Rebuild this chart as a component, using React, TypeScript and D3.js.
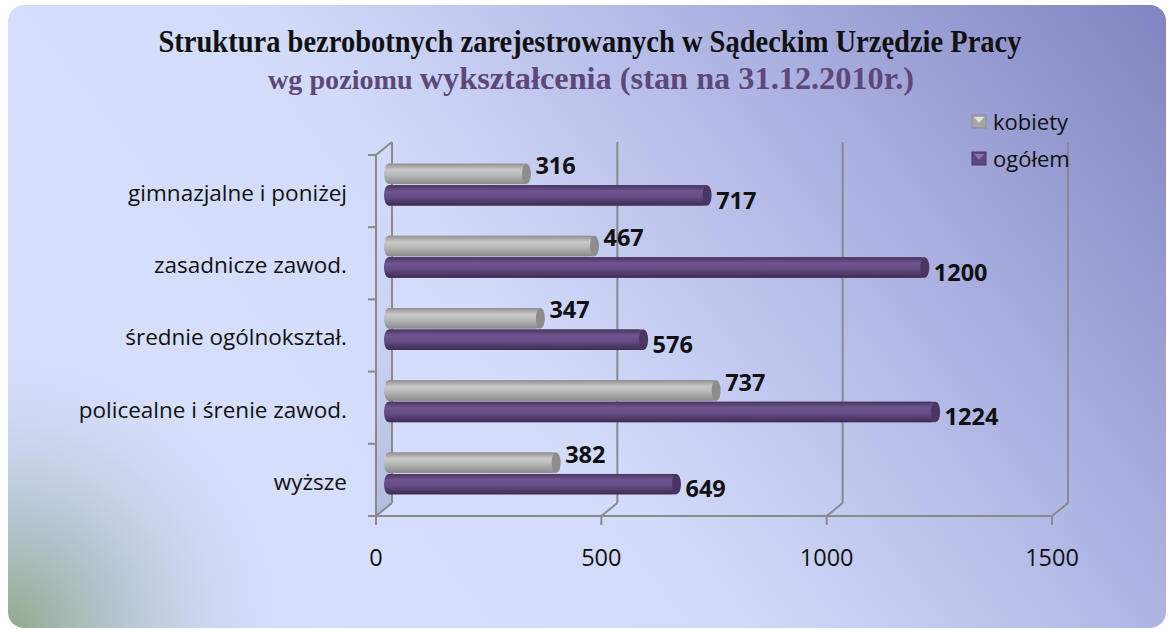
import React from "react";
import * as d3 from "d3";

const categories = [
  "gimnazjalne i poniżej",
  "zasadnicze zawod.",
  "średnie ogólnokształ.",
  "policealne i śrenie zawod.",
  "wyższe",
];
const kobiety = [316, 467, 347, 737, 382];
const ogolem = [717, 1200, 576, 1224, 649];
const seriesNames = ["kobiety", "ogółem"];
const xTicks = [0, 500, 1000, 1500];

const W = 1168;
const H = 629;
// depth offset of the 3D back wall
const DX = 16;
const DY = -13;

export default function App() {
  const x = d3.scaleLinear().domain([0, 1500]).range([376, 1052]);
  const y = d3.scaleBand().domain(categories).range([155, 516]).padding(0);
  const inner = d3
    .scaleBand()
    .domain(seriesNames)
    .range([y.bandwidth() * 0.21, y.bandwidth() * 0.79])
    .paddingInner(0.05);

  const rows = categories.map((c, i) => ({ cat: c, kobiety: kobiety[i], ogolem: ogolem[i] }));
  const fills: Record<string, string> = { kobiety: "url(#gGray)", "ogółem": "url(#gPurple)" };
  const caps: Record<string, string> = { kobiety: "#8d8d8d", "ogółem": "#4a3563" };

  const top = y.range()[0];
  const bottom = y.range()[1];
  const grid = "#8a8a8a";
  const sans = "'Open Sans', sans-serif";

  return (
    <svg width={W} height={H} style={{ position: "absolute", left: 0, top: 0 }}>
      <defs>
        <linearGradient id="bg" gradientUnits="userSpaceOnUse" x1={350} y1={629} x2={1168} y2={0}>
          <stop offset="0" stopColor="#d6dffc" />
          <stop offset="0.3" stopColor="#d2dbfa" />
          <stop offset="0.62" stopColor="#b0b6e4" />
          <stop offset="1" stopColor="#8183c1" />
        </linearGradient>
        <radialGradient id="green" gradientUnits="userSpaceOnUse" cx={8} cy={629} r={300}>
          <stop offset="0" stopColor="#90aa8a" stopOpacity="1" />
          <stop offset="0.4" stopColor="#adbfc6" stopOpacity="0.75" />
          <stop offset="1" stopColor="#d2dbfa" stopOpacity="0" />
        </radialGradient>
        <linearGradient id="gGray" x1="0" y1="0" x2="0" y2="1">
          <stop offset="0" stopColor="#8f8f8f" />
          <stop offset="0.3" stopColor="#c9c9c9" />
          <stop offset="0.55" stopColor="#b9b9b9" />
          <stop offset="1" stopColor="#8a8a8a" />
        </linearGradient>
        <linearGradient id="gPurple" x1="0" y1="0" x2="0" y2="1">
          <stop offset="0" stopColor="#4a3462" />
          <stop offset="0.3" stopColor="#6f5690" />
          <stop offset="0.6" stopColor="#624a82" />
          <stop offset="1" stopColor="#3f2c55" />
        </linearGradient>
        <linearGradient id="wall" x1="0" y1="0" x2="0" y2="1">
          <stop offset="0" stopColor="#c9d1f3" stopOpacity="0" />
          <stop offset="1" stopColor="#a9b3d6" stopOpacity="0.8" />
        </linearGradient>
      </defs>

      <rect x={8} y={5} width={1158} height={623} rx={16} fill="url(#bg)" />
      <rect x={8} y={5} width={1158} height={623} rx={16} fill="url(#green)" />

      {/* title */}
      <text
        x={590}
        y={52}
        textAnchor="middle"
        fontFamily="'Liberation Serif', serif"
        fontWeight="bold"
        fontSize={31}
        fill="#111"
        textLength={863}
        lengthAdjust="spacingAndGlyphs"
      >
        Struktura bezrobotnych zarejestrowanych w Sądeckim Urzędzie Pracy
      </text>
      <text
        x={591}
        y={89}
        textAnchor="middle"
        fontFamily="'Liberation Serif', serif"
        fontWeight="bold"
        fill="#5e4879"
        textLength={646}
        lengthAdjust="spacingAndGlyphs"
      >
        <tspan fontSize={27}>wg  poziomu </tspan>
        <tspan fontSize={31}>wykształcenia (stan na 31.12.2010r.)</tspan>
      </text>

      {/* left wall shading */}
      <polygon
        points={`${x(0)},${top} ${x(0) + DX},${top + DY} ${x(0) + DX},${bottom + DY} ${x(0)},${bottom}`}
        fill="url(#wall)"
      />

      {/* back grid lines with floor diagonals */}
      {xTicks.map((t) => (
        <g key={t} stroke={grid} strokeWidth={2} fill="none">
          <line x1={x(t) + DX} y1={top + DY} x2={x(t) + DX} y2={bottom + DY} />
          <line x1={x(t) + DX} y1={bottom + DY} x2={x(t)} y2={bottom} />
          <line x1={x(t)} y1={bottom} x2={x(t)} y2={bottom + 9} />
        </g>
      ))}
      {/* front y axis */}
      <g stroke={grid} strokeWidth={2}>
        <line x1={x(0)} y1={top} x2={x(0)} y2={bottom} />
        <line x1={x(0)} y1={top} x2={x(0) + DX} y2={top + DY} />
        <line x1={x(0) - 8} y1={bottom} x2={x(1500)} y2={bottom} />
        {categories.map((c) => (
          <line key={c} x1={x(0) - 8} y1={y(c)!} x2={x(0)} y2={y(c)!} />
        ))}
      </g>

      {/* bars */}
      {rows.map((r) =>
        seriesNames.map((s) => {
          const v = s === "kobiety" ? r.kobiety : r.ogolem;
          const y0 = y(r.cat)! + DY / 2 + inner(s)!;
          const h = inner.bandwidth();
          const x0 = x(0) + DX / 2;
          const x1 = x(v) + DX / 2;
          const rx = 4.5;
          return (
            <g key={r.cat + s}>
              <rect x={x0} y={y0} width={x1 - x0} height={h} rx={rx} ry={h / 2} fill={fills[s]} />
              <rect x={x0 + rx} y={y0} width={x1 - x0 - rx} height={h} fill={fills[s]} />
              <ellipse cx={x1} cy={y0 + h / 2} rx={rx} ry={h / 2} fill={caps[s]} />
              <text
                x={x1 + 9}
                y={s === "kobiety" ? y0 + h / 2 - 8 : y0 + h / 2 + 5}
                dy="0.35em"
                fontFamily={sans}
                fontWeight="bold"
                fontSize={23.5}
                fill="#111"
              >
                {v}
              </text>
            </g>
          );
        })
      )}

      {/* category labels */}
      {categories.map((c) => (
        <text
          key={c}
          x={347}
          y={y(c)! + y.bandwidth() / 2 + 2}
          dy="0.35em"
          textAnchor="end"
          fontFamily={sans}
          fontSize={22.5}
          fill="#111"
        >
          {c}
        </text>
      ))}

      {/* x tick labels */}
      {xTicks.map((t) => (
        <text
          key={t}
          x={x(t)}
          y={558}
          dy="0.35em"
          textAnchor="middle"
          fontFamily={sans}
          fontSize={23.5}
          fill="#111"
        >
          {t}
        </text>
      ))}

      {/* legend */}
      {seriesNames.map((s, i) => (
        <g key={s} transform={`translate(972,${115 + i * 37})`}>
          <rect x={0} y={0} width={14} height={13} fill={s === "kobiety" ? "#a6a6a6" : "#5e4680"} stroke={caps[s]} />
          <path d="M2,2 L12,2 L7,8 Z" fill={s === "kobiety" ? "#e2e2e2" : "#8c72ad"} />
          <text x={21} y={7} dy="0.35em" fontFamily={sans} fontSize={22} fill="#111">
            {s}
          </text>
        </g>
      ))}
    </svg>
  );
}
